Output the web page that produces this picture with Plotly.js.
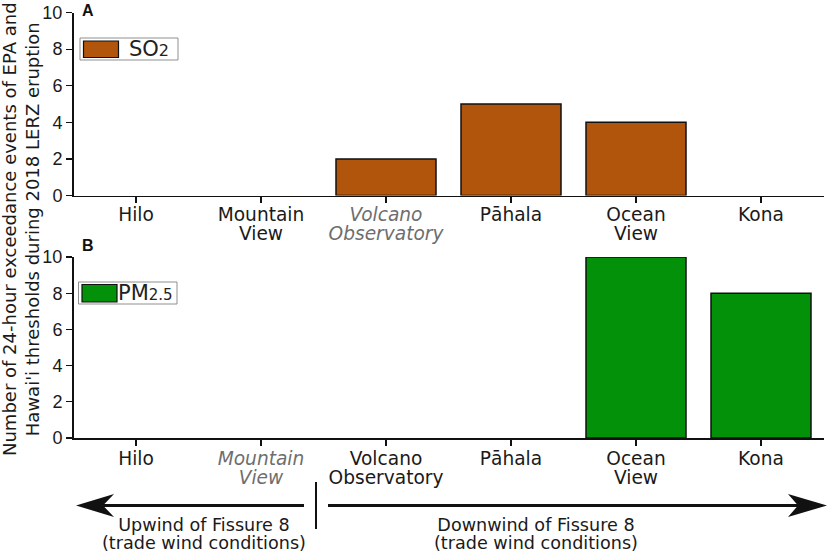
<!DOCTYPE html>
<html><head><meta charset="utf-8">
<script src="https://cdn.plot.ly/plotly-3.0.1.min.js"></script>
<style>html,body{margin:0;padding:0;background:#fff}</style></head>
<body><div id="chart" style="width:828px;height:554px"></div>
<script>
const categories = ["Hilo","Mountain View","Volcano Observatory","Pāhala","Ocean View","Kona"];
const so2Values = [0,0,2,5,4,0];
const pm25Values = [0,0,0,0,10,8];
const ticksA = ["Hilo","Mountain<br>View","<i><span style='color:#6e6e6e'>Volcano<br>Observatory</span></i>","Pāhala","Ocean<br>View","Kona"];
const ticksB = ["Hilo","<i><span style='color:#6e6e6e'>Mountain<br>View</span></i>","Volcano<br>Observatory","Pāhala","Ocean<br>View","Kona"];
const yTicks = [0,2,4,6,8,10];
const so2Color="#b1540c", pmColor="#03910a";
const W=828,H=554;
const px=x=>x/W, py=y=>1-y/H;
const fontX={family:"DejaVu Sans",size:18.6,color:"#1a1a1a"};
const fontNote={family:"DejaVu Sans",size:17.6,color:"#1a1a1a"};
const fontY={family:"Liberation Sans",size:18,color:"#1a1a1a"};
function xa(anchor,ticks,off){return {domain:[px(73.5),px(823.5)],range:[-0.5,5.5],type:"linear",anchor,tickmode:"array",tickvals:[0,1,2,3,4,5],ticktext:ticks,ticks:"outside",ticklen:6,tickwidth:1.2,tickcolor:"#111",showline:true,linecolor:"#111",linewidth:1.5,showgrid:false,zeroline:false,tickfont:fontX,ticklabelstandoff:off};}
function ya(anchor,dom){return {domain:dom,range:[0,10],anchor,tickmode:"array",tickvals:yTicks,ticks:"outside",ticklen:6,tickwidth:1.2,tickcolor:"#111",showline:true,linecolor:"#111",linewidth:1.5,showgrid:false,zeroline:false,tickfont:fontY};}
const idx=[0,1,2,3,4,5];
const lw=v=>v.map(d=>d>0?1.5:0);
const traces=[
 {type:"bar",x:idx,y:so2Values,customdata:categories,name:"SO2",xaxis:"x",yaxis:"y",width:0.8,marker:{color:so2Color,line:{color:"#111",width:lw(so2Values)}},showlegend:false},
 {type:"bar",x:idx,y:pm25Values,customdata:categories,name:"PM2.5",xaxis:"x2",yaxis:"y2",width:0.8,marker:{color:pmColor,line:{color:"#111",width:lw(pm25Values)}},showlegend:false}
];
const rect=(x0,y0,x1,y1,fill,line,w)=>({type:"rect",xref:"paper",yref:"paper",x0:px(x0),x1:px(x1),y0:py(y0),y1:py(y1),fillcolor:fill,line:{color:line,width:w}});
const head=(tip,barb,notch,y,hh)=>({type:"path",xref:"paper",yref:"paper",path:`M${px(tip)},${py(y)}L${px(barb)},${py(y-hh)}L${px(notch)},${py(y)}L${px(barb)},${py(y+hh)}Z`,fillcolor:"#111",line:{width:0}});
const hline=(x0,x1,y)=>({type:"line",xref:"paper",yref:"paper",x0:px(x0),x1:px(x1),y0:py(y),y1:py(y),line:{color:"#111",width:3}});
const note=(text,x,y,font,extra)=>Object.assign({text,xref:"paper",yref:"paper",x:px(x),y:py(y),xanchor:"center",yanchor:"middle",showarrow:false,font},extra||{});
const left={xanchor:"left",xshift:-2};
const layout={width:W,height:H,margin:{l:0,r:0,t:0,b:0},paper_bgcolor:"#fff",plot_bgcolor:"rgba(0,0,0,0)",showlegend:false,
 xaxis:xa("y",ticksA,-4),yaxis:ya("x",[py(195.5),py(12.5)]),
 xaxis2:xa("y2",ticksB,-3),yaxis2:ya("x2",[py(438),py(257)]),
 shapes:[
  rect(80,38,178,60,"#fff","#8f8f8f",1),rect(83.5,41,118.5,57.5,so2Color,"#111",1.2),
  rect(78.5,282,177,304,"#fff","#8f8f8f",1),rect(82,284.5,117,302,pmColor,"#111",1.2),
  {type:"line",xref:"paper",yref:"paper",x0:px(316),x1:px(316),y0:py(482),y1:py(529),line:{color:"#111",width:2}},
  hline(100,304,505.5),hline(328,800,505.5),
  head(76,114,103,505.5,11.5),head(827,788,798,505.5,11.5)
 ],
 annotations:[
  note("<b>A</b>",88,10.5,{family:"Liberation Sans",size:16,color:"#111"}),
  note("<b>B</b>",88,245,{family:"Liberation Sans",size:16,color:"#111"}),
  note("SO<span style='font-size:16px'>2</span>",129,49,{family:"DejaVu Sans",size:21,color:"#222"},left),
  note("PM<span style='font-size:15px'>2.5</span>",118,293,{family:"DejaVu Sans",size:21,color:"#222"},left),
  note("Number of 24-hour exceedance events of EPA and<br>Hawai'i thresholds during 2018 LERZ eruption",21,229,{family:"DejaVu Sans",size:18,color:"#1a1a1a"},{textangle:-90}),
  note("Upwind of Fissure 8<br>(trade wind conditions)",204,536,fontNote),
  note("Downwind of Fissure 8<br>(trade wind conditions)",536,536,fontNote)
 ]};
Plotly.newPlot("chart",traces,layout,{displayModeBar:false,staticPlot:true}).then(()=>{
 document.querySelectorAll(".xtick tspan.line,.x2tick tspan.line").forEach(t=>{const d=parseFloat(t.getAttribute("dy")||"0");if(d>0)t.setAttribute("dy","1.02em");});
 document.querySelectorAll(".annotation tspan.line").forEach(t=>{if(t.textContent.startsWith("(trade"))t.setAttribute("dy","1.02em");});
});
</script></body></html>
